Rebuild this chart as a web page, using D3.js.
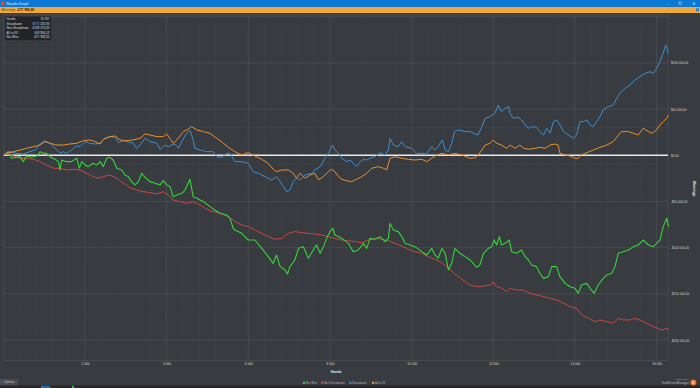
<!DOCTYPE html>
<html>
<head>
<meta charset="utf-8">
<script src="https://cdn.jsdelivr.net/npm/d3@7"></script>
<style>
  html, body { margin: 0; padding: 0; background: #383b3f; overflow: hidden; }
  svg { display: block; font-family: "Open Sans", "DejaVu Sans", sans-serif; }
</style>
</head>
<body>
<div id="chart"></div>
<script>
const kWidth = 700;
const kHeight = 388;
const kPlotLeft = 4;
const kPlotRight = 668;
const kPlotTop = 15;
const kPlotBottom = 360.7;

// ---- data (hands, dollars) ----
const netWon = [[0,0],[40,300],[120,3900],[200,-3300],[330,-2200],[410,-1500],[490,-6900],[570,-800],[690,-2200],[820,-800],[900,3900],[980,2100],[1060,2100],[1140,-1500],[1270,-4400],[1350,-6900],[1390,-15900],[1430,-5100],[1550,-6900],[1670,-6900],[1800,-3300],[1860,-14100],[1920,-6900],[2000,-10500],[2080,-12300],[2200,-8700],[2290,-10500],[2370,-6900],[2450,-12300],[2530,-3300],[2610,-2200],[2690,-5100],[2780,-14100],[2900,-15900],[2980,-21300],[3060,-23100],[3140,-28500],[3230,-32100],[3310,-28500],[3390,-19500],[3470,-23800],[3590,-28500],[3720,-30300],[3840,-32100],[3920,-27500],[4000,-32100],[4080,-33900],[4160,-44800],[4250,-43000],[4370,-41200],[4450,-37600],[4570,-26000],[4650,-44800],[4740,-46600],[4900,-50200],[5060,-55600],[5180,-59200],[5310,-62800],[5470,-64600],[5550,-68200],[5630,-79000],[5670,-80800],[5840,-84500],[6000,-91700],[6160,-91700],[6330,-100700],[6490,-109700],[6610,-116900],[6690,-107900],[6780,-120500],[6900,-124100],[6960,-128500],[7020,-120500],[7140,-113300],[7230,-100700],[7350,-98900],[7470,-111500],[7590,-102500],[7670,-97100],[7760,-106100],[7840,-98900],[7920,-89900],[8000,-82600],[8070,-79000],[8120,-86300],[8290,-89900],[8450,-95300],[8570,-104300],[8690,-102500],[8820,-95300],[8900,-100700],[8980,-89900],[9100,-90900],[9230,-88100],[9350,-93500],[9430,-89900],[9470,-73600],[9550,-80800],[9670,-82600],[9760,-88100],[9840,-95300],[9960,-97100],[10080,-98900],[10250,-104300],[10370,-107900],[10490,-100700],[10570,-107900],[10650,-111500],[10740,-100700],[10820,-106100],[10900,-124100],[10980,-116900],[11060,-100700],[11180,-106100],[11310,-109700],[11430,-113300],[11510,-116900],[11590,-121200],[11670,-118700],[11760,-106100],[11880,-100700],[11960,-98900],[12020,-91700],[12080,-97100],[12150,-88100],[12200,-97100],[12290,-95300],[12390,-91700],[12450,-104300],[12570,-106100],[12690,-102500],[12780,-109700],[12860,-113300],[12940,-118700],[13060,-120500],[13140,-127700],[13230,-133200],[13350,-131300],[13430,-120500],[13550,-120500],[13630,-131300],[13760,-138600],[13880,-142200],[14000,-144000],[14080,-149400],[14160,-140400],[14290,-138600],[14370,-144000],[14470,-149400],[14570,-140400],[14690,-133200],[14780,-129500],[14900,-127700],[14980,-120500],[15060,-106100],[15180,-104300],[15310,-102500],[15430,-98900],[15550,-97100],[15670,-91700],[15800,-97100],[15920,-98900],[16000,-95300],[16080,-91700],[16160,-77200],[16250,-68200],[16290,-77200]];

const nonShowdown = [[0,0],[40,1400],[250,-800],[410,-3300],[570,-3300],[740,-4400],[900,-6900],[1060,-10500],[1230,-14100],[1390,-14100],[1550,-15900],[1720,-15200],[1880,-15900],[2040,-19500],[2200,-23100],[2330,-24900],[2450,-23100],[2610,-21300],[2780,-24900],[2940,-30300],[3100,-35000],[3270,-37600],[3430,-39400],[3590,-40400],[3760,-41900],[3920,-39400],[4040,-43000],[4160,-48400],[4330,-50200],[4490,-52000],[4650,-50200],[4820,-53800],[4980,-58500],[5140,-61000],[5310,-62800],[5470,-65700],[5630,-70000],[5670,-71800],[5840,-75400],[6000,-77200],[6160,-80800],[6330,-84500],[6490,-88100],[6650,-90900],[6820,-89900],[6980,-84500],[7140,-82600],[7310,-83700],[7470,-84500],[7630,-85200],[7800,-86300],[7960,-88100],[8120,-89900],[8290,-91700],[8450,-92400],[8610,-93500],[8780,-94600],[8940,-91700],[9100,-89900],[9270,-90900],[9430,-92400],[9590,-95300],[9760,-98200],[9920,-101800],[10080,-104300],[10250,-106100],[10410,-109700],[10570,-112600],[10740,-116200],[10900,-122300],[11060,-128500],[11230,-134200],[11430,-140400],[11590,-142200],[11760,-141500],[11920,-140400],[12000,-136800],[12080,-142200],[12200,-144000],[12330,-147600],[12410,-144000],[12570,-145800],[12740,-145800],[12900,-149400],[13060,-151200],[13230,-153000],[13390,-154800],[13550,-156600],[13720,-160200],[13880,-163800],[14040,-165600],[14160,-172800],[14330,-176400],[14490,-180100],[14610,-178200],[14780,-180100],[14940,-181900],[15060,-176400],[15180,-178200],[15350,-178200],[15470,-176400],[15590,-178200],[15760,-181900],[15920,-185500],[16040,-187300],[16120,-189100],[16250,-187300],[16290,-188300]];

const showdown = [[0,0],[40,700],[160,3900],[330,2100],[490,1400],[650,3900],[780,5700],[900,12200],[1020,15800],[1140,13000],[1270,7500],[1390,2100],[1470,3900],[1550,2100],[1670,5700],[1800,10100],[1880,9300],[2000,14800],[2120,13000],[2250,12200],[2370,13000],[2490,18400],[2610,20200],[2740,19400],[2820,13700],[2940,15800],[3060,14400],[3180,13000],[3270,7500],[3350,11100],[3470,18400],[3590,14800],[3760,13000],[3840,6500],[3960,11100],[4040,9300],[4120,11100],[4200,12200],[4290,7500],[4370,14800],[4490,23800],[4570,27400],[4650,16600],[4690,7500],[4820,5700],[4980,3900],[5140,3900],[5230,-1500],[5350,-2200],[5470,2100],[5550,2100],[5670,-6900],[5840,-6900],[6000,-8700],[6120,-17700],[6250,-19500],[6410,-23100],[6570,-26700],[6690,-23100],[6780,-28500],[6860,-33900],[6940,-39400],[7020,-37600],[7100,-28500],[7180,-24900],[7270,-26700],[7390,-21300],[7550,-19500],[7630,-15900],[7760,-12300],[7880,-3300],[8000,5700],[8060,11100],[8120,5700],[8210,2100],[8290,-3300],[8410,-6900],[8490,-5100],[8570,-8700],[8650,-12300],[8740,-6900],[8820,-4400],[8900,-5100],[8980,-3300],[9100,-1500],[9230,2900],[9350,300],[9430,5700],[9470,18400],[9550,11100],[9670,9300],[9760,14800],[9840,9300],[10000,7500],[10120,2100],[10250,2100],[10370,1400],[10490,9300],[10570,5700],[10650,9300],[10750,16600],[10820,5700],[10900,3900],[10980,13000],[11050,25600],[11140,27400],[11310,25600],[11430,25600],[11550,23100],[11630,22000],[11720,31000],[11800,40000],[11920,41800],[12040,45400],[12120,54400],[12200,47200],[12290,50800],[12370,52600],[12410,45400],[12490,40000],[12610,41100],[12690,38200],[12780,32800],[12860,29200],[12940,31000],[13060,30300],[13140,25600],[13230,22000],[13310,29200],[13390,23800],[13470,36400],[13550,38200],[13630,32800],[13720,25600],[13840,22000],[13960,18400],[14040,22000],[14120,36400],[14200,36400],[14290,38200],[14370,32800],[14450,31000],[14530,36400],[14610,41800],[14690,49000],[14820,52600],[14940,54400],[15020,61700],[15100,67100],[15230,72500],[15350,76100],[15470,81500],[15590,85100],[15720,88700],[15840,90500],[15920,88700],[16000,94100],[16080,101300],[16160,110400],[16220,119400],[16290,110400]];

const allInEv = [[0,0],[80,2100],[250,3900],[410,5700],[570,7500],[740,9300],[900,11100],[1020,14800],[1140,13000],[1310,11100],[1470,11100],[1630,12200],[1800,13000],[1960,15800],[2120,16600],[2250,14800],[2370,12200],[2450,17300],[2610,20200],[2740,20900],[2860,16600],[3020,15800],[3180,16600],[3350,18400],[3470,23100],[3590,22000],[3760,20200],[3920,20200],[4000,23100],[4080,18400],[4160,13000],[4250,16600],[4410,25600],[4490,27400],[4610,31000],[4740,27400],[4900,25600],[5060,23800],[5230,18400],[5390,13000],[5550,7500],[5670,3900],[5840,300],[6000,2900],[6160,-800],[6330,-4400],[6490,-8700],[6610,-15200],[6690,-17700],[6820,-15900],[6980,-15900],[7100,-19500],[7180,-24900],[7270,-19500],[7390,-24900],[7510,-21300],[7630,-19500],[7720,-26700],[7840,-23100],[7960,-17700],[8040,-15200],[8120,-17700],[8210,-23100],[8290,-26000],[8410,-27500],[8530,-28500],[8650,-26000],[8780,-23100],[8900,-19500],[9020,-14100],[9180,-12300],[9310,-14100],[9390,-15900],[9470,-3300],[9590,-1500],[9760,-3300],[9920,-4400],[10080,-5100],[10250,-4400],[10370,-6900],[10490,-3300],[10570,-800],[10740,2100],[10900,300],[11060,2100],[11230,300],[11430,-3300],[11550,-2600],[11630,300],[11720,5700],[11800,11100],[11920,13000],[12000,16600],[12080,13000],[12200,11100],[12330,7500],[12410,11100],[12530,7500],[12650,11100],[12740,7500],[12860,6500],[13020,7500],[13140,8600],[13270,7500],[13390,11100],[13510,12200],[13590,11100],[13630,2100],[13760,300],[13880,-800],[14000,-3300],[14080,-3300],[14160,300],[14290,2900],[14450,5700],[14610,8600],[14780,11100],[14940,14800],[15020,19400],[15140,25600],[15310,25600],[15430,23800],[15550,22000],[15670,29200],[15800,25600],[15880,23800],[16000,27400],[16080,32800],[16160,36400],[16250,40000],[16290,43600]];

const xTicks = [2000, 4000, 6000, 8000, 10000, 12000, 14000, 16000];
const yTicks = [100000, 50000, 0, -50000, -100000, -150000, -200000];
const legendNames = ["Net Won", "Non Showdown", "Showdown", "All-in EV"];
const legendColors = ["#33d638", "#d84848", "#3a8fd2", "#e9912e"];
const statLabels = ["Hands", "Showdown", "Non Showdown", "All-in EV", "Net Won"];
const statValues = ["16 291", "$111 220,00", "-$183 216,00", "$43 904,23", "-$71 996,00"];

const locale = d3.formatLocale({ decimal: ",", thousands: " ", grouping: [3], currency: ["$", ""], minus: "-" });
const fmtMoney = locale.format("$,.2f");
const fmtHands = locale.format(",d");

function createSvg()
{
  return d3.select("#chart")
    .append("svg")
    .attr("width", kWidth)
    .attr("height", kHeight);
}

function drawChrome(svg)
{
  svg.append("rect").attr("width", kWidth).attr("height", kHeight).attr("fill", "#383b3f");

  // window title bar
  svg.append("rect").attr("width", kWidth).attr("height", 7).attr("fill", "#0b78d4");
  svg.append("rect").attr("x", 1).attr("y", 1.5).attr("width", 3.5).attr("height", 3.5).attr("fill", "#e8462f");
  svg.append("text").attr("x", 6.5).attr("y", 5).attr("font-size", 3.4).attr("fill", "#fff").text("Results Graph");
  svg.append("text").attr("x", 668).attr("y", 5).attr("font-size", 4).attr("fill", "#dbe8f5").attr("text-anchor", "middle").text("–");
  svg.append("rect").attr("x", 679).attr("y", 2).attr("width", 2.6).attr("height", 2.6).attr("fill", "none").attr("stroke", "#dbe8f5").attr("stroke-width", 0.5);
  svg.append("text").attr("x", 694).attr("y", 5.2).attr("font-size", 4).attr("fill", "#fff").attr("text-anchor", "middle").text("✕");

  // orange status bar
  svg.append("rect").attr("y", 7).attr("width", kWidth).attr("height", 6).attr("fill", "#f0a83a");
  const st = svg.append("text").attr("x", 1.5).attr("y", 11.3).attr("font-size", 3.2).attr("fill", "#4a3410");
  st.append("tspan").text("Winnings: ");
  st.append("tspan").attr("font-weight", "bold").attr("fill", "#2b1f0a").text("-$71 996,00");
  svg.append("rect").attr("x", 696).attr("y", 8.3).attr("width", 3).attr("height", 3).attr("fill", "#2f7fd0");

  // bottom bits
  svg.append("rect").attr("x", 0).attr("y", 379.5).attr("width", 17.5).attr("height", 5.8).attr("fill", "#4a4d52").attr("stroke", "#5a5d62").attr("stroke-width", 0.4);
  svg.append("text").attr("x", 2).attr("y", 383.4).attr("font-size", 2.8).attr("fill", "#d8d8d8").text("+ Options");
  svg.append("rect").attr("y", 385.5).attr("width", kWidth).attr("height", 2.5).attr("fill", "#25272a");
  svg.append("rect").attr("x", 41).attr("y", 385.8).attr("width", 9).attr("height", 2.2).attr("fill", "#1f6fb8");
  svg.append("rect").attr("x", 72).attr("y", 385.8).attr("width", 2).attr("height", 2.2).attr("fill", "#3bb54a");

  svg.append("text").attr("x", 689).attr("y", 380).attr("font-size", 2.4).attr("fill", "#a8abb0").attr("text-anchor", "end").text("Powered by");
  svg.append("text").attr("x", 689).attr("y", 383.6).attr("font-size", 3).attr("fill", "#c8cbd0").attr("text-anchor", "end").text("HoldFrom Manager");
  svg.append("circle").attr("cx", 693.3).attr("cy", 382.5).attr("r", 3).attr("fill", "#e8762c");
  svg.append("text").attr("x", 693.3).attr("y", 383.8).attr("font-size", 3.4).attr("font-weight", "bold").attr("fill", "#fff").attr("text-anchor", "middle").text("2");
}

function drawChart(svg)
{
  const xScale = d3.scaleLinear().domain([0, 16290]).range([3.3, 668.5]);
  const yScale = d3.scaleLinear().domain([-222300, 151800]).range([kPlotBottom, kPlotTop]);

  const grid = svg.append("g");
  // minor gridlines
  grid.selectAll("line.vminor")
    .data(d3.range(400, 16290, 400))
    .enter().append("line")
    .attr("x1", d => xScale(d)).attr("x2", d => xScale(d))
    .attr("y1", kPlotTop).attr("y2", kPlotBottom)
    .attr("stroke", "#3f4246").attr("stroke-width", 0.6);
  grid.selectAll("line.hminor")
    .data(d3.range(-220000, 151000, 10000))
    .enter().append("line")
    .attr("x1", kPlotLeft).attr("x2", kPlotRight)
    .attr("y1", d => yScale(d)).attr("y2", d => yScale(d))
    .attr("stroke", "#3e4145").attr("stroke-width", 0.6);
  // major gridlines
  grid.selectAll("line.vmajor")
    .data(xTicks)
    .enter().append("line")
    .attr("x1", d => xScale(d)).attr("x2", d => xScale(d))
    .attr("y1", kPlotTop).attr("y2", kPlotBottom)
    .attr("stroke", "#4a4d52").attr("stroke-width", 0.8);
  grid.selectAll("line.hmajor")
    .data(yTicks.concat([150000]))
    .enter().append("line")
    .attr("x1", kPlotLeft).attr("x2", kPlotRight)
    .attr("y1", d => yScale(d)).attr("y2", d => yScale(d))
    .attr("stroke", "#4a4d52").attr("stroke-width", 0.8);

  svg.append("rect")
    .attr("x", kPlotLeft).attr("y", kPlotTop)
    .attr("width", kPlotRight - kPlotLeft).attr("height", kPlotBottom - kPlotTop)
    .attr("fill", "none").attr("stroke", "#4d5055").attr("stroke-width", 0.8);

  // axes
  const xAxis = d3.axisBottom(xScale).tickValues(xTicks).tickSize(0).tickPadding(0).tickFormat(fmtHands);
  const gx = svg.append("g")
    .attr("transform", `translate(0, ${kPlotBottom + 2.2})`)
    .call(xAxis);
  gx.select(".domain").remove();
  gx.selectAll("text").attr("font-size", 3.2).attr("fill", "#d4d6d9").attr("dy", "0.71em");

  const yAxis = d3.axisRight(yScale).tickValues(yTicks).tickSize(0).tickPadding(0).tickFormat(fmtMoney);
  const gy = svg.append("g")
    .attr("transform", `translate(671, 0)`)
    .call(yAxis);
  gy.select(".domain").remove();
  gy.selectAll("text").attr("font-size", 3.1).attr("fill", "#d4d6d9");

  svg.append("text").attr("x", 336).attr("y", 373).attr("font-size", 3.4).attr("font-weight", "bold")
    .attr("fill", "#e4e6e9").attr("text-anchor", "middle").text("Hands");
  svg.append("text").attr("transform", "translate(692.5, 188.5) rotate(90)").attr("font-size", 3.4)
    .attr("font-weight", "bold").attr("fill", "#e4e6e9").attr("text-anchor", "middle").text("Winnings");

  // zero line
  svg.append("line")
    .attr("x1", kPlotLeft).attr("x2", kPlotRight)
    .attr("y1", yScale(0)).attr("y2", yScale(0))
    .attr("stroke", "#e8e8e8").attr("stroke-width", 1.4);

  const line = d3.line()
    .x(d => xScale(d[0]))
    .y(d => yScale(d[1]));

  const series = [
    { data: nonShowdown, color: legendColors[1], w: 0.9 },
    { data: netWon, color: legendColors[0], w: 1.1 },
    { data: showdown, color: legendColors[2], w: 1.0 },
    { data: allInEv, color: legendColors[3], w: 1.0 }
  ];

  svg.append("g").selectAll("path")
    .data(series)
    .enter().append("path")
    .attr("d", d => line(d.data))
    .attr("fill", "none")
    .attr("stroke", d => d.color)
    .attr("stroke-width", d => d.w)
    .attr("stroke-linejoin", "round");

  // legend
  const legendX = [303, 321, 349.3, 372];
  const lg = svg.append("g").selectAll("g")
    .data(legendNames)
    .enter().append("g")
    .attr("transform", (d, i) => `translate(${legendX[i]}, 383)`);
  lg.append("rect").attr("x", 0).attr("y", -1.3).attr("width", 2.2).attr("height", 2.2)
    .attr("fill", (d, i) => legendColors[i]);
  lg.append("text").attr("x", 3).attr("y", 1).attr("font-size", 2.8).attr("fill", "#b9bcc0").text(d => d);

  // stats box
  svg.append("rect").attr("x", 5).attr("y", 16.5).attr("width", 46).attr("height", 23.5)
    .attr("fill", "#222427").attr("stroke", "#2c2e31").attr("stroke-width", 0.4);
  const rows = svg.append("g").selectAll("g")
    .data(statLabels)
    .enter().append("g")
    .attr("transform", (d, i) => `translate(0, ${20 + i * 4.6})`);
  rows.append("text").attr("x", 6.5).attr("font-size", 3).attr("fill", "#e2e4e7").text(d => d);
  rows.append("text").attr("x", 49.5).attr("font-size", 3).attr("fill", "#e2e4e7")
    .attr("text-anchor", "end").text((d, i) => statValues[i]);
}

document.addEventListener('DOMContentLoaded', () => {
  const svg = createSvg();
  drawChrome(svg);
  drawChart(svg);
});
</script>
</body>
</html>
